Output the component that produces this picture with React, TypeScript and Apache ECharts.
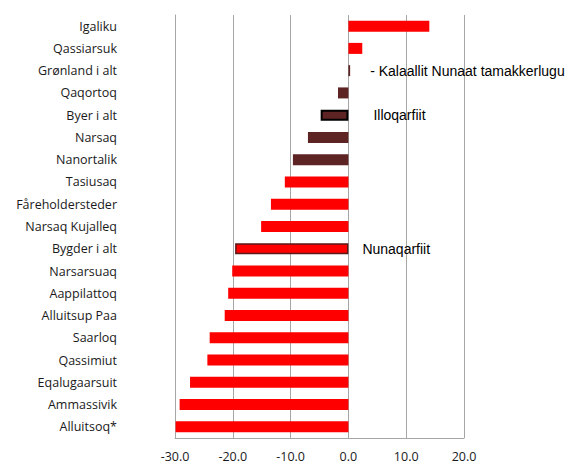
import React, { useEffect, useRef } from "react";
import * as echarts from "echarts";

const categories = [
  "Igaliku",
  "Qassiarsuk",
  "Grønland i alt",
  "Qaqortoq",
  "Byer i alt",
  "Narsaq",
  "Nanortalik",
  "Tasiusaq",
  "Fåreholdersteder",
  "Narsaq Kujalleq",
  "Bygder i alt",
  "Narsarsuaq",
  "Aappilattoq",
  "Alluitsup Paa",
  "Saarloq",
  "Qassimiut",
  "Eqalugaarsuit",
  "Ammassivik",
  "Alluitsoq*",
];

const values = [
  14.0, 2.4, 0.3, -1.8, -4.8, -7.0, -9.6, -11.0, -13.4, -15.1, -19.6, -20.1,
  -20.8, -21.4, -24.0, -24.4, -27.4, -29.2, -29.9,
];

// bar kinds: r = red, d = dark brown, db = dark brown with black border, rb = red with dark border
const kinds = [
  "r", "r", "d", "d", "db", "d", "d", "r", "r", "r", "rb", "r", "r", "r", "r", "r", "r", "r", "r",
];

const annotations: Record<string, { text: string; distance: number }> = {
  "Grønland i alt": { text: "- Kalaallit Nunaat tamakkerlugu", distance: 20 },
  "Byer i alt": { text: "Illoqarfiit", distance: 25 },
  "Bygder i alt": { text: "Nunaqarfiit", distance: 14 },
};

const xMin = -30;
const xMax = 20;
const xInterval = 10;

export default function App() {
  const ref = useRef<HTMLDivElement>(null);

  useEffect(() => {
    if (!ref.current) return;
    const chart = echarts.init(ref.current, undefined, { renderer: "svg" });

    const data = values.map((v, i) => {
      const k = kinds[i];
      const item: any = {
        value: v,
        itemStyle: {
          color: k === "r" || k === "rb" ? "#ff0000" : "#5e2323",
          borderColor: k === "db" ? "#000000" : k === "rb" ? "#5a1a1a" : undefined,
          borderWidth: k === "db" ? 2 : k === "rb" ? 1.5 : 0,
        },
      };
      const a = annotations[categories[i]];
      if (a) {
        item.label = {
          show: true,
          position: "right",
          distance: a.distance,
          formatter: a.text,
          color: "#000000",
          fontFamily: "Liberation Sans, Arial, sans-serif",
          fontSize: 14,
        };
      }
      return item;
    });

    chart.setOption({
      animation: false,
      grid: { left: 175, right: 107, top: 15, bottom: 27, containLabel: false },
      xAxis: {
        type: "value",
        min: xMin,
        max: xMax,
        interval: xInterval,
        axisLine: { show: true, lineStyle: { color: "#a6a6a6", width: 1 } },
        axisTick: { show: false },
        splitLine: { show: true, lineStyle: { color: "#a6a6a6", width: 1 } },
        axisLabel: {
          formatter: (v: number) => v.toFixed(1),
          color: "#1a1a1a",
          fontFamily: "Open Sans, Noto Sans, sans-serif",
          fontSize: 12.5,
          margin: 12,
        },
      },
      yAxis: {
        type: "category",
        inverse: true,
        data: categories,
        axisLine: { show: true, onZero: false, lineStyle: { color: "#a6a6a6" } },
        axisTick: { show: false },
        axisLabel: {
          color: "#1a1a1a",
          fontFamily: "Open Sans, Noto Sans, sans-serif",
          fontSize: 12.5,
          margin: 58,
        },
      },
      series: [
        {
          type: "bar",
          data,
          barWidth: 11,
        },
      ],
    });

    return () => chart.dispose();
  }, []);

  return (
    <div
      ref={ref}
      style={{ position: "absolute", left: 0, top: 0, width: 571, height: 465, background: "#ffffff" }}
    />
  );
}
